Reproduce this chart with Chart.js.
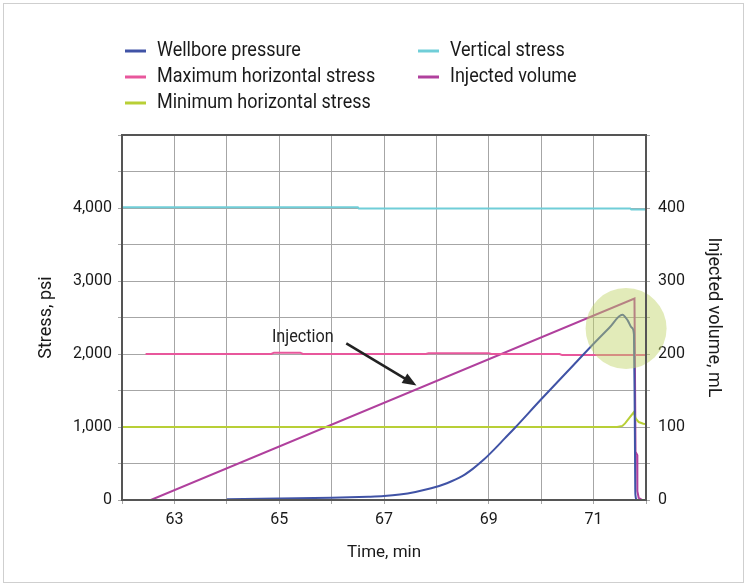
<!DOCTYPE html>
<html>
<head>
<meta charset="utf-8">
<script src="https://cdn.jsdelivr.net/npm/chart.js@4.4.1/dist/chart.umd.min.js"></script>
<style>
  html, body { margin: 0; padding: 0; background: #fff; }
  #wrap { position: relative; width: 748px; height: 586px; }
  #frame { position: absolute; left: 3px; top: 3px; width: 741px; height: 580px; border: 1px solid #cfcfcf; box-sizing: border-box; pointer-events: none; }
</style>
</head>
<body>
<div id="wrap">
  <canvas id="chart" width="748" height="586"></canvas>
  <div id="frame"></div>
</div>
<script>
// time in minutes, stress in psi, volume in mL
const wellboreTime = [64.0, 65.0, 66.0, 66.7, 67.0, 67.3, 67.6, 67.9, 68.2, 68.5, 68.7, 68.9, 69.1, 69.3, 69.5, 70.0, 70.5, 71.0, 71.3, 71.55, 71.65, 71.73, 71.77, 71.785, 71.795, 71.80, 71.82];
const wellborePsi  = [10, 20, 30, 45, 55, 75, 110, 160, 230, 330, 430, 550, 690, 840, 990, 1380, 1760, 2140, 2360, 2537, 2460, 2360, 2270, 1200, 150, 60, 0];

const maxHTime = [62.45, 64.85, 64.9, 65.4, 65.45, 67.8, 67.85, 69.0, 69.05, 70.35, 70.4, 72.0];
const maxHPsi  = [2000, 2000, 2018, 2018, 2000, 2000, 2010, 2010, 2000, 2000, 1985, 1985];

const minHTime = [62.0, 71.45, 71.55, 71.6, 71.77, 71.8, 71.86, 71.95, 72.0];
const minHPsi  = [1000, 1000, 1015, 1050, 1205, 1120, 1068, 1045, 1040];

const vertTime = [62.0, 66.5, 66.52, 71.7, 71.72, 72.0];
const vertPsi  = [4010, 4010, 3992, 3992, 3978, 3978];

const injTime = [62.55, 71.78, 71.80, 71.83, 71.835, 71.86, 71.93];
const injMl   = [0, 276, 66, 62, 12, 3, 0];

const stressTicks = [0, 1000, 2000, 3000, 4000];
const volumeTicks = [0, 100, 200, 300, 400];
const timeTicks = [63, 65, 67, 69, 71];

// highlight circle and annotation, in data units
const highlight = { x: 71.62, y: 2349 };
const note = { text: 'Injection', x: 65.45, y: 2228 };
const arrowFrom = { x: 66.28, y: 2146 };
const arrowTo = { x: 67.62, y: 1569 };

const FONT = "'Roboto', sans-serif";

function pts(xs, ys) {
  return xs.map((x, i) => ({ x: x, y: ys[i] }));
}

const extras = {
  id: 'extras',
  afterDatasetsDraw(chart) {
    const { ctx, chartArea: a, scales } = chart;
    const x = scales.x, y = scales.y;
    ctx.save();
    // highlight circle
    ctx.fillStyle = 'rgba(190, 210, 100, 0.45)';
    ctx.beginPath();
    ctx.arc(x.getPixelForValue(highlight.x), y.getPixelForValue(highlight.y), 40.5, 0, Math.PI * 2);
    ctx.fill();
    // frame
    ctx.strokeStyle = '#555';
    ctx.lineWidth = 2;
    ctx.strokeRect(a.left, a.top, a.right - a.left, a.bottom - a.top);
    // annotation
    const tx = x.getPixelForValue(note.x), ty = y.getPixelForValue(note.y);
    ctx.fillStyle = '#222';
    ctx.font = '18px ' + FONT;
    ctx.textAlign = 'center';
    ctx.textBaseline = 'middle';
    ctx.save();
    ctx.translate(tx, ty);
    ctx.scale(0.9, 1);
    ctx.fillText(note.text, 0, 0);
    ctx.restore();
    const x1 = x.getPixelForValue(arrowFrom.x), y1 = y.getPixelForValue(arrowFrom.y);
    const x2 = x.getPixelForValue(arrowTo.x), y2 = y.getPixelForValue(arrowTo.y);
    const ang = Math.atan2(y2 - y1, x2 - x1);
    ctx.strokeStyle = '#222';
    ctx.lineWidth = 2.5;
    ctx.beginPath();
    ctx.moveTo(x1, y1);
    ctx.lineTo(x2 - 8 * Math.cos(ang), y2 - 8 * Math.sin(ang));
    ctx.stroke();
    ctx.beginPath();
    ctx.moveTo(x2, y2);
    ctx.lineTo(x2 - 14 * Math.cos(ang) + 5.5 * Math.sin(ang), y2 - 14 * Math.sin(ang) - 5.5 * Math.cos(ang));
    ctx.lineTo(x2 - 14 * Math.cos(ang) - 5.5 * Math.sin(ang), y2 - 14 * Math.sin(ang) + 5.5 * Math.cos(ang));
    ctx.closePath();
    ctx.fill();
    ctx.restore();
  },
  afterDraw(chart) {
    // two column legend
    const { ctx } = chart;
    const ds = chart.data.datasets;
    const spots = [[125, 51], [125, 77], [125, 103], [418, 51], [418, 77]];
    ctx.save();
    ctx.font = '20px ' + FONT;
    ctx.textBaseline = 'middle';
    ctx.textAlign = 'left';
    ds.forEach((d, i) => {
      const [lx, ly] = spots[i];
      ctx.strokeStyle = d.borderColor;
      ctx.lineWidth = 3;
      ctx.beginPath();
      ctx.moveTo(lx, ly);
      ctx.lineTo(lx + 21, ly);
      ctx.stroke();
      ctx.fillStyle = '#1a1a1a';
      ctx.save();
      ctx.translate(lx + 32, ly);
      ctx.scale(0.9, 1);
      ctx.fillText(d.label, 0, 0);
      ctx.restore();
    });
    ctx.restore();
  }
};

const lineStyle = { borderWidth: 2, pointRadius: 0, tension: 0, fill: false };

new Chart(document.getElementById('chart'), {
  type: 'line',
  data: {
    datasets: [
      { label: 'Wellbore pressure', data: pts(wellboreTime, wellborePsi), borderColor: '#4053a6', yAxisID: 'y', ...lineStyle, cubicInterpolationMode: 'monotone' },
      { label: 'Maximum horizontal stress', data: pts(maxHTime, maxHPsi), borderColor: '#e8579c', yAxisID: 'y', ...lineStyle },
      { label: 'Minimum horizontal stress', data: pts(minHTime, minHPsi), borderColor: '#b8cf36', yAxisID: 'y', ...lineStyle },
      { label: 'Vertical stress', data: pts(vertTime, vertPsi), borderColor: '#70ced8', yAxisID: 'y', ...lineStyle },
      { label: 'Injected volume', data: pts(injTime, injMl), borderColor: '#b0409d', yAxisID: 'y2', ...lineStyle }
    ]
  },
  options: {
    responsive: false,
    animation: false,
    layout: { padding: { top: 135, left: 0, right: 0, bottom: 0 } },
    plugins: {
      legend: { display: false },
      tooltip: { enabled: false }
    },
    scales: {
      x: {
        type: 'linear',
        min: 62,
        max: 72,
        afterFit: (s) => { s.height = 86; },
        afterBuildTicks: (s) => { s.ticks = [62, 63, 64, 65, 66, 67, 68, 69, 70, 71, 72].map(v => ({ value: v })); },
        ticks: {
          autoSkip: false,
          maxRotation: 0,
          padding: 6,
          color: '#1a1a1a',
          font: { family: FONT, size: 16 },
          callback: (v) => timeTicks.includes(v) ? String(v) : ''
        },
        grid: { color: '#a6a6a6', lineWidth: 1, tickLength: 4 },
        border: { color: '#555', width: 2 },
        title: { display: true, text: 'Time, min', color: '#1a1a1a', font: { family: FONT, size: 17 }, padding: { top: 0, bottom: 23 } }
      },
      y: {
        position: 'left',
        min: 0,
        max: 5000,
        afterFit: (s) => { s.width = 122; },
        ticks: {
          stepSize: 500,
          padding: 6,
          color: '#1a1a1a',
          font: { family: FONT, size: 16 },
          callback: (v) => stressTicks.includes(v) ? v.toLocaleString('en-US') : ''
        },
        grid: { color: '#a6a6a6', lineWidth: 1, tickLength: 4 },
        border: { color: '#555', width: 2 },
        title: { display: true, text: 'Stress, psi', color: '#1a1a1a', font: { family: FONT, size: 18 }, padding: { top: 36, bottom: 0 } }
      },
      y2: {
        position: 'right',
        min: 0,
        max: 500,
        afterFit: (s) => { s.width = 102; },
        ticks: {
          stepSize: 50,
          padding: 8,
          color: '#1a1a1a',
          font: { family: FONT, size: 16 },
          callback: (v) => volumeTicks.includes(v) ? String(v) : ''
        },
        grid: { drawOnChartArea: false, color: '#a6a6a6', lineWidth: 1, tickLength: 4 },
        border: { color: '#555', width: 2 },
        title: { display: true, text: 'Injected volume, mL', color: '#1a1a1a', font: { family: FONT, size: 18 }, padding: { top: 24, bottom: 0 } }
      }
    }
  },
  plugins: [extras]
});
</script>
</body>
</html>
